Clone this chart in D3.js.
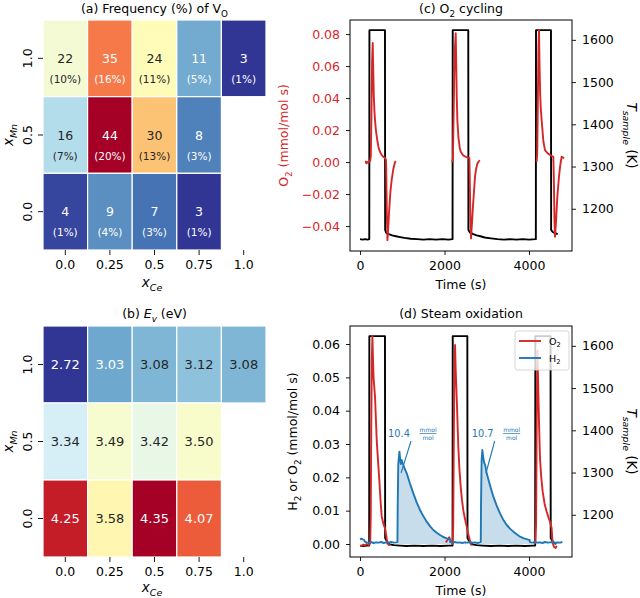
<!DOCTYPE html>
<html><head><meta charset="utf-8">
<script src="https://cdn.jsdelivr.net/npm/d3@7"></script>
<style>body{margin:0;background:#fff} svg{display:block} text{font-family:"DejaVu Sans",sans-serif}</style>
</head><body>
<svg id="c" width="640" height="598"></svg>
<script>
// ---------- data ----------
const xCe = ["0.0","0.25","0.5","0.75","1.0"];
const xMn = ["1.0","0.5","0.0"];
const freqCount = [[22,35,24,11,3],[16,44,30,8,null],[4,9,7,3,null]];
const freqPct = [[10,16,11,5,1],[7,20,13,3,null],[1,4,3,1,null]];
const evValues = [[2.72,3.03,3.08,3.12,3.08],[3.34,3.49,3.42,3.50,null],[4.25,3.58,4.35,4.07,null]];

const timeTicks = [0,2000,4000];
const tempTicks = [1200,1300,1400,1500,1600];
const cO2Ticks = [-0.04,-0.02,0.00,0.02,0.04,0.06,0.08];
const dGasTicks = [0.00,0.01,0.02,0.03,0.04,0.05,0.06];

// panel (c): sample temperature [time s, K]
const cTemp = [[0,1128],[60,1127],[120,1128],[180,1127],[218,1128],[222,1623],[590,1623],[594,1150],[620,1143],[680,1140],[760,1137],[850,1135],[950,1133],[1050,1131],[1200,1129],[1350,1128],[1500,1127],[1650,1128],[1800,1127],[1950,1128],[2100,1127],[2190,1128],[2194,1623],[2562,1623],[2566,1150],[2600,1144],[2680,1140],[2760,1137],[2850,1135],[2950,1132],[3100,1130],[3250,1128],[3400,1127],[3550,1128],[3700,1127],[3850,1128],[4000,1127],[4162,1128],[4166,1623],[4520,1623],[4524,1150],[4560,1145],[4620,1142],[4680,1140]];
// panel (c): O2 rate [time s, mmol/mol s]
const cO2 = [[118,0.0005],[135,0.0003],[150,-0.0008],[170,0.0],[190,-0.0005],[215,0.0002],[240,0.0008],[255,0.004],[270,0.03],[285,0.063],[300,0.0745],[312,0.058],[325,0.042],[340,0.032],[355,0.026],[375,0.02],[400,0.015],[434,0.0096],[470,0.0065],[510,0.0045],[552,0.0033],[590,0.0025],[615,0.0013],[622,-0.01],[635,-0.032],[648,-0.0488],[665,-0.042],[690,-0.03],[720,-0.018],[750,-0.011],[790,-0.004],[828,0.0],[850,0.0005],[851,null],
[2171,0.0],[2185,0.0005],[2198,0.002],[2215,0.03],[2240,0.068],[2265,0.0805],[2278,0.06],[2290,0.04],[2304,0.026],[2330,0.015],[2360,0.009],[2384,0.0065],[2440,0.0042],[2525,0.003],[2588,0.0025],[2597,-0.01],[2612,-0.035],[2627,-0.0477],[2650,-0.038],[2680,-0.025],[2722,-0.009],[2750,-0.004],[2777,-0.001],[2810,0.0005],[2840,0.001],[2841,null],
[4170,0.0],[4182,0.0005],[4195,0.005],[4210,0.04],[4225,0.072],[4237,0.0825],[4250,0.06],[4265,0.042],[4280,0.033],[4300,0.026],[4340,0.013],[4379,0.0075],[4440,0.0055],[4497,0.0044],[4576,0.0033],[4588,-0.01],[4602,-0.035],[4615,-0.0467],[4640,-0.037],[4670,-0.022],[4710,-0.009],[4740,-0.002],[4773,0.0033],[4800,0.003],[4829,0.0023]];

// panel (d): sample temperature
const dTemp = [[0,1127],[80,1126],[160,1127],[216,1127],[220,1623],[590,1623],[594,1145],[620,1140],[660,1134],[700,1130],[800,1128],[950,1127],[1100,1126],[1300,1127],[1500,1126],[1700,1127],[1900,1126],[2100,1127],[2190,1127],[2194,1623],[2540,1623],[2544,1145],[2570,1140],[2610,1134],[2660,1130],[2760,1128],[2900,1127],[3100,1126],[3300,1127],[3500,1126],[3700,1127],[3900,1126],[4100,1127],[4146,1127],[4150,1623],[4510,1623],[4514,1145],[4540,1140],[4580,1135],[4620,1132],[4650,1131]];
// panel (d): O2 rate
const dO2 = [[0,-0.0006],[40,-0.0005],[80,-0.0002],[120,-0.0004],[160,0.0],[200,-0.0003],[240,0.0002],[253,0.008],[265,0.035],[280,0.056],[293,0.0624],[305,0.056],[320,0.05],[355,0.044],[395,0.031],[425,0.025],[457,0.019],[485,0.013],[513,0.0082],[550,0.0062],[592,0.0047],[620,0.0025],[647,0.0002],[680,-0.0003],[710,0.0],[711,null],
[2030,0.0005],[2070,0.0012],[2110,0.002],[2150,0.0008],[2190,0.0],[2205,0.005],[2222,0.035],[2236,0.055],[2249,0.0597],[2265,0.052],[2288,0.044],[2327,0.029],[2355,0.022],[2384,0.017],[2415,0.013],[2446,0.010],[2485,0.0075],[2525,0.0052],[2560,0.003],[2588,0.0017],[2620,0.0],[2650,-0.0004],[2651,null],
[4120,0.0],[4150,0.0003],[4168,0.006],[4180,0.03],[4192,0.052],[4200,0.058],[4210,0.052],[4221,0.0457],[4240,0.035],[4260,0.0257],[4290,0.02],[4324,0.0157],[4370,0.012],[4418,0.0097],[4460,0.008],[4497,0.0067],[4536,0.0047],[4550,0.002],[4560,0.0003],[4590,-0.0008],[4630,-0.0012],[4660,-0.0006]];
// panel (d): H2 rate
const dH2 = [[0,0.0014],[30,0.0016],[60,0.0014],[90,0.0013],[110,0.0008],[150,0.0005],[200,0.0004],[260,0.0006],[320,0.0003],[380,0.0005],[440,0.0004],[500,0.0006],[560,0.0003],[620,0.0005],[680,0.0004],[740,0.0006],[800,0.0004],[860,0.0005],[885,0.0006],[892,0.012],[905,0.024],[932,0.0277],[950,0.0255],[964,0.024],[985,0.0252],[1002,0.0245],[1050,0.0228],[1105,0.0212],[1180,0.0182],[1262,0.0152],[1340,0.0125],[1420,0.0102],[1500,0.0083],[1578,0.0067],[1660,0.0053],[1735,0.0042],[1815,0.0034],[1893,0.0027],[1970,0.0021],[2052,0.0017],[2100,0.0015],[2128,0.0014],[2135,0.0005],[2180,0.0004],[2240,0.0006],[2300,0.0004],[2360,0.0005],[2420,0.0003],[2480,0.0005],[2540,0.0004],[2600,0.0006],[2660,0.0004],[2720,0.0005],[2780,0.0003],[2840,0.0005],[2858,0.0006],[2864,0.012],[2878,0.025],[2895,0.0282],[2915,0.0262],[2935,0.0245],[2960,0.0238],[2998,0.0212],[3080,0.0175],[3156,0.0142],[3235,0.0115],[3314,0.0092],[3390,0.0073],[3472,0.0057],[3550,0.0046],[3629,0.0037],[3710,0.0029],[3787,0.0022],[3880,0.0017],[3984,0.0013],[4015,0.0012],[4024,0.0005],[4080,0.0004],[4140,0.0006],[4200,0.0004],[4260,0.0005],[4320,0.0003],[4380,0.0006],[4440,0.0004],[4500,0.0005],[4560,0.0006],[4620,0.0003],[4680,0.0005],[4740,0.0004],[4790,0.0006]];
const h2FillRanges = [[885,2130],[2858,4020]];
const h2Yield = ["10.4","10.7"];
const h2AnnotPoint = [[970,0.0213],[2982,0.0213]];
const h2AnnotText = [[663,0.0333],[2643,0.0333]];

// ---------- style ----------
const RED = "#d62728", BLUE = "#1f77b4", DARK = "#262626";
const rdylbu = ["#a50026","#d73027","#f46d43","#fdae61","#fee090","#ffffbf","#e0f3f8","#abd9e9","#74add1","#4575b4","#313695"];
const rdylbuR = rdylbu.slice().reverse();
const FS = 12.5;
const svg = d3.select("#c");

function rich(sel, parts, fs) {
  let shift = 0;
  parts.forEach(p => {
    const target = p.sub ? fs * 0.28 : 0;
    const ts = sel.append("tspan").text(p.t);
    const dy = target - shift;
    if (dy) ts.attr("dy", dy);
    shift = target;
    if (p.sub) ts.attr("font-size", fs * 0.7);
    if (p.it) ts.attr("font-style", "italic");
  });
  return sel;
}
function lum(c) {
  const r = d3.rgb(c);
  const f = v => { v /= 255; return v <= 0.03928 ? v / 12.92 : Math.pow((v + 0.055) / 1.055, 2.4); };
  return 0.2126 * f(r.r) + 0.7152 * f(r.g) + 0.0722 * f(r.b);
}
function styleAxis(g, color) {
  g.attr("font-family", "DejaVu Sans").attr("font-size", FS);
  g.select(".domain").remove();
  g.selectAll(".tick line").attr("stroke", "#000").attr("stroke-width", 0.9);
  g.selectAll(".tick text").attr("fill", color || "#000");
}

// ---------- heatmaps ----------
function heat(top, bottom, values, vmin, vmax, annot, titleParts, titleY, xLabY) {
  const x = d3.scaleBand().domain(xCe).range([43, 266]);
  const y = d3.scaleBand().domain(xMn).range([top, bottom]);
  const color = d3.scaleLinear()
    .domain(d3.range(11).map(i => vmin + (vmax - vmin) * i / 10))
    .range(rdylbuR).interpolate(d3.interpolateRgb).clamp(true);
  const cells = [];
  values.forEach((row, i) => row.forEach((v, j) => { if (v != null) cells.push({i, j, v}); }));
  const g = svg.append("g");
  g.selectAll("rect").data(cells).join("rect")
    .attr("x", d => x(xCe[d.j])).attr("y", d => y(xMn[d.i]))
    .attr("width", x.bandwidth()).attr("height", y.bandwidth())
    .attr("fill", d => color(d.v)).attr("stroke", "#fff").attr("stroke-width", 1.2);
  cells.forEach(d => {
    const cx = x(xCe[d.j]) + x.bandwidth() / 2, cy = y(xMn[d.i]) + y.bandwidth() / 2;
    const tc = lum(color(d.v)) > 0.408 ? DARK : "#fff";
    annot(g, d, cx, cy, tc);
  });
  const ax = g.append("g").attr("transform", `translate(0,${bottom})`)
    .call(d3.axisBottom(x).tickSize(5).tickPadding(5));
  styleAxis(ax);
  const ay = g.append("g").attr("transform", "translate(43,0)")
    .call(d3.axisLeft(y).tickSize(5).tickPadding(6));
  styleAxis(ay);
  ay.selectAll(".tick text").attr("x", null).attr("dy", null).attr("y", null)
    .attr("text-anchor", "middle").attr("transform", "translate(-11,0) rotate(-90)");
  rich(g.append("text").attr("x", 154.5).attr("y", titleY).attr("text-anchor", "middle").attr("font-size", FS), titleParts, FS);
  rich(g.append("text").attr("x", 152).attr("y", xLabY).attr("text-anchor", "middle").attr("font-size", 13.5),
    [{t: "x", it: true}, {t: "Ce", it: true, sub: true}], 13.5);
  rich(g.append("text").attr("transform", `translate(13,${(top + bottom) / 2}) rotate(-90)`).attr("text-anchor", "middle").attr("font-size", 13.5),
    [{t: "x", it: true}, {t: "Mn", it: true, sub: true}], 13.5);
}

heat(20, 250, freqCount, 3, 44, (g, d, cx, cy, tc) => {
  g.append("text").attr("x", cx).attr("y", cy).attr("dy", "0.36em").attr("text-anchor", "middle")
    .attr("font-size", 12.5).attr("fill", tc).text(d.v);
  g.append("text").attr("x", cx).attr("y", cy + 21).attr("dy", "0.36em").attr("text-anchor", "middle")
    .attr("font-size", 10.5).attr("fill", tc).text(`(${freqPct[d.i][d.j]}%)`);
}, [{t: "(a) Frequency (%) of V"}, {t: "O", sub: true}], 13, 287);

heat(326, 557, evValues, 2.72, 4.35, (g, d, cx, cy, tc) => {
  g.append("text").attr("x", cx).attr("y", cy).attr("dy", "0.36em").attr("text-anchor", "middle")
    .attr("font-size", 13).attr("fill", tc).text(d3.format(".2f")(d.v));
}, [{t: "(b) "}, {t: "E", it: true}, {t: "v", it: true, sub: true}, {t: " (eV)"}], 318, 592);

// ---------- time series ----------
function ts(o) {
  const L = 350, R = 572;
  const x = d3.scaleLinear().domain([-238, 5018]).range([L, R]);
  const yL = d3.scaleLinear().domain(o.yDom).range([o.bottom, o.top]);
  const yR = d3.scaleLinear().domain([1100, 1647]).range([o.bottom, o.top]);
  const g = svg.append("g");
  const cid = "clip" + o.id;
  g.append("clipPath").attr("id", cid).append("rect").attr("x", L).attr("y", o.top).attr("width", R - L).attr("height", o.bottom - o.top);
  const plot = g.append("g").attr("clip-path", `url(#${cid})`);
  if (o.fill) {
    o.fill.forEach(([a, b]) => {
      const pts = o.fillData.filter(d => d[0] >= a && d[0] <= b);
      plot.append("path").datum(pts)
        .attr("d", d3.area().x(d => x(d[0])).y0(yL(0)).y1(d => yL(d[1])))
        .attr("fill", BLUE).attr("fill-opacity", 0.25);
    });
  }
  const lineT = d3.line().x(d => x(d[0])).y(d => yR(d[1]));
  const lineL = d3.line().defined(d => d[1] != null).x(d => x(d[0])).y(d => yL(d[1]));
  plot.append("path").datum(o.temp).attr("d", lineT).attr("fill", "none").attr("stroke", "#000").attr("stroke-width", 1.9).attr("stroke-linejoin", "round");
  o.series.forEach(s => {
    plot.append("path").datum(s.data).attr("d", lineL).attr("fill", "none").attr("stroke", s.color).attr("stroke-width", 1.9).attr("stroke-linejoin", "round");
  });
  g.append("rect").attr("x", L).attr("y", o.top).attr("width", R - L).attr("height", o.bottom - o.top)
    .attr("fill", "none").attr("stroke", "#000").attr("stroke-width", 1);
  const ax = g.append("g").attr("transform", `translate(0,${o.bottom})`)
    .call(d3.axisBottom(x).tickValues(timeTicks).tickFormat(d3.format("d")).tickSize(4).tickPadding(6));
  styleAxis(ax);
  const ay = g.append("g").attr("transform", `translate(${L},0)`)
    .call(d3.axisLeft(yL).tickValues(o.yTicks).tickFormat(d3.format(".2f")).tickSize(4).tickPadding(6));
  styleAxis(ay, o.leftColor);
  const ar = g.append("g").attr("transform", `translate(${R},0)`)
    .call(d3.axisRight(yR).tickValues(tempTicks).tickFormat(d3.format("d")).tickSize(4).tickPadding(6));
  styleAxis(ar);
  g.append("text").attr("x", (L + R) / 2).attr("y", o.bottom + 38).attr("text-anchor", "middle").attr("font-size", FS).text("Time (s)");
  rich(g.append("text").attr("x", (L + R) / 2).attr("y", o.titleY).attr("text-anchor", "middle").attr("font-size", FS), o.title, FS);
  rich(g.append("text").attr("transform", `translate(${o.leftLabX},${(o.top + o.bottom) / 2}) rotate(-90)`)
    .attr("text-anchor", "middle").attr("font-size", FS).attr("fill", o.leftColor), o.leftLab, FS);
  rich(g.append("text").attr("transform", `translate(627,${(o.top + o.bottom) / 2}) rotate(90)`)
    .attr("text-anchor", "middle").attr("font-size", 13.5),
    [{t: "T", it: true}, {t: "sample", it: true, sub: true}, {t: " (K)"}], 13.5);
  return {g, x, yL};
}

ts({id: "c", top: 20, bottom: 251, yDom: [-0.0556, 0.0888], yTicks: cO2Ticks, temp: cTemp,
  series: [{data: cO2, color: RED}], leftColor: RED, leftLabX: 288, titleY: 13,
  title: [{t: "(c) O"}, {t: "2", sub: true}, {t: " cycling"}],
  leftLab: [{t: "O"}, {t: "2", sub: true}, {t: " (mmol/mol s)"}]});

const pd = ts({id: "d", top: 326, bottom: 557, yDom: [-0.0039, 0.0654], yTicks: dGasTicks, temp: dTemp,
  series: [{data: dO2, color: RED}, {data: dH2, color: BLUE}], fill: h2FillRanges, fillData: dH2,
  leftColor: "#000", leftLabX: 297, titleY: 318,
  title: [{t: "(d) Steam oxidation"}],
  leftLab: [{t: "H"}, {t: "2", sub: true}, {t: " or O"}, {t: "2", sub: true}, {t: " (mmol/mol s)"}]});

// annotations
h2Yield.forEach((lab, k) => {
  const tx = pd.x(h2AnnotText[k][0]), ty = pd.yL(h2AnnotText[k][1]) + 3.5;
  const px = pd.x(h2AnnotPoint[k][0]), py = pd.yL(h2AnnotPoint[k][1]);
  pd.g.append("line").attr("x1", tx + 23).attr("y1", ty + 4.5).attr("x2", px).attr("y2", py)
    .attr("stroke", BLUE).attr("stroke-width", 1.1);
  pd.g.append("text").attr("x", tx).attr("y", ty).attr("font-size", 9.8).attr("fill", BLUE).text(lab);
  const fx = tx + 40;
  pd.g.append("text").attr("x", fx).attr("y", ty - 5).attr("text-anchor", "middle").attr("font-size", 6).attr("fill", BLUE).text("mmol");
  pd.g.append("line").attr("x1", fx - 8.5).attr("x2", fx + 8.5).attr("y1", ty - 3).attr("y2", ty - 3).attr("stroke", BLUE).attr("stroke-width", 0.7);
  pd.g.append("text").attr("x", fx).attr("y", ty + 3.2).attr("text-anchor", "middle").attr("font-size", 6).attr("fill", BLUE).text("mol");
});

// legend
const lg = pd.g.append("g");
lg.append("rect").attr("x", 515).attr("y", 331).attr("width", 54).attr("height", 39).attr("rx", 2.5)
  .attr("fill", "#fff").attr("fill-opacity", 0.8).attr("stroke", "#cccccc").attr("stroke-width", 0.8);
[{c: RED, n: "O"}, {c: BLUE, n: "H"}].forEach((e, i) => {
  const yy = 341 + i * 17;
  lg.append("line").attr("x1", 519).attr("x2", 541).attr("y1", yy).attr("y2", yy).attr("stroke", e.c).attr("stroke-width", 1.9);
  rich(lg.append("text").attr("x", 549).attr("y", yy + 3.5).attr("font-size", 9.5), [{t: e.n}, {t: "2", sub: true}], 9.5);
});
</script>
</body></html>
